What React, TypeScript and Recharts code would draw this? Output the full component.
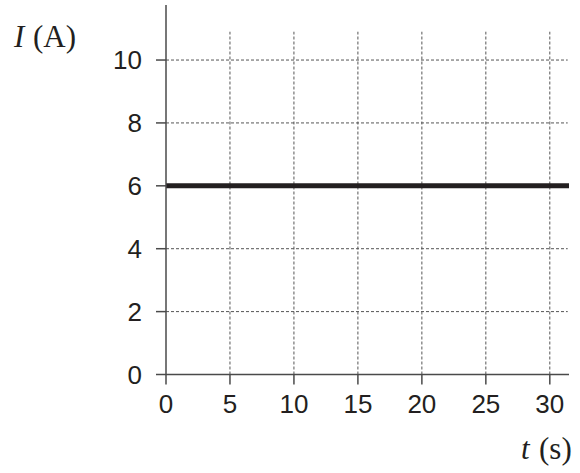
import React from 'react';
import { LineChart, Line, XAxis, YAxis, ReferenceLine } from 'recharts';

const timeValues = [0, 31.5];
const currentValues = [6, 6];
const xTicks = [0, 5, 10, 15, 20, 25, 30];
const yTicks = [0, 2, 4, 6, 8, 10];
const gridTop = 10.9;
const xMax = 31.4;

const data = timeValues.map((t, k) => ({ t, i: currentValues[k] }));

const axisColor = '#4a4a4a';
const gridColor = '#555';
const textColor = '#231f20';
const sans = '"Liberation Sans", Arial, Helvetica, sans-serif';
const serif = '"Liberation Serif", "Times New Roman", serif';
const tickFont = 26;

const XTick = (props: any) => {
  const { x, y, payload } = props;
  return (
    <text x={x} y={y + 28.5} textAnchor="middle" fontFamily={sans} fontSize={tickFont} fill={textColor}>
      {payload.value}
    </text>
  );
};

const YTick = (props: any) => {
  const { x, y, payload } = props;
  return (
    <text x={x} y={y + 9.3} textAnchor="end" fontFamily={sans} fontSize={tickFont} fill={textColor}>
      {payload.value}
    </text>
  );
};

export default function App() {
  return (
    <div style={{ position: 'absolute', left: 0, top: 0, width: 580, height: 473, background: '#fff' }}>
      <LineChart
        width={580}
        height={473}
        data={data}
        margin={{ top: 5, right: 11, left: 0, bottom: 68.5 }}
      >
        {yTicks.filter((y) => y > 0).map((y) => (
          <ReferenceLine
            key={'h' + y}
            segment={[{ x: 0, y }, { x: xMax, y }]}
            stroke={gridColor}
            strokeDasharray="3 2"
            strokeWidth={1}
          />
        ))}
        {xTicks.filter((x) => x > 0).map((x) => (
          <ReferenceLine
            key={'v' + x}
            segment={[{ x, y: 0 }, { x, y: gridTop }]}
            stroke={gridColor}
            strokeDasharray="3 2"
            strokeWidth={1}
          />
        ))}
        <XAxis
          dataKey="t"
          type="number"
          domain={[0, 31.5]}
          ticks={xTicks}
          height={30}
          tickSize={10}
          tickMargin={0}
          stroke={axisColor}
          strokeWidth={1.5}
          tick={<XTick />}
          interval={0}
          allowDataOverflow
        />
        <YAxis
          type="number"
          domain={[0, 11.75]}
          ticks={yTicks}
          width={166}
          tickSize={10}
          tickMargin={14}
          stroke={axisColor}
          strokeWidth={1.5}
          tick={<YTick />}
          interval={0}
          allowDataOverflow
        />
        <Line
          dataKey="i"
          type="linear"
          stroke={textColor}
          strokeWidth={5}
          dot={false}
          isAnimationActive={false}
        />
      </LineChart>
      <svg width={580} height={473} style={{ position: 'absolute', left: 0, top: 0, pointerEvents: 'none' }}>
        <text x={14} y={47} fontFamily={serif} fontSize={31} fill={textColor}>
          <tspan fontStyle="italic">I</tspan>
          <tspan x={33}>(A)</tspan>
        </text>
        <text x={521} y={459} fontFamily={serif} fontSize={31} fill={textColor}>
          <tspan fontStyle="italic">t</tspan>
          <tspan x={539}>(s)</tspan>
        </text>
      </svg>
    </div>
  );
}
